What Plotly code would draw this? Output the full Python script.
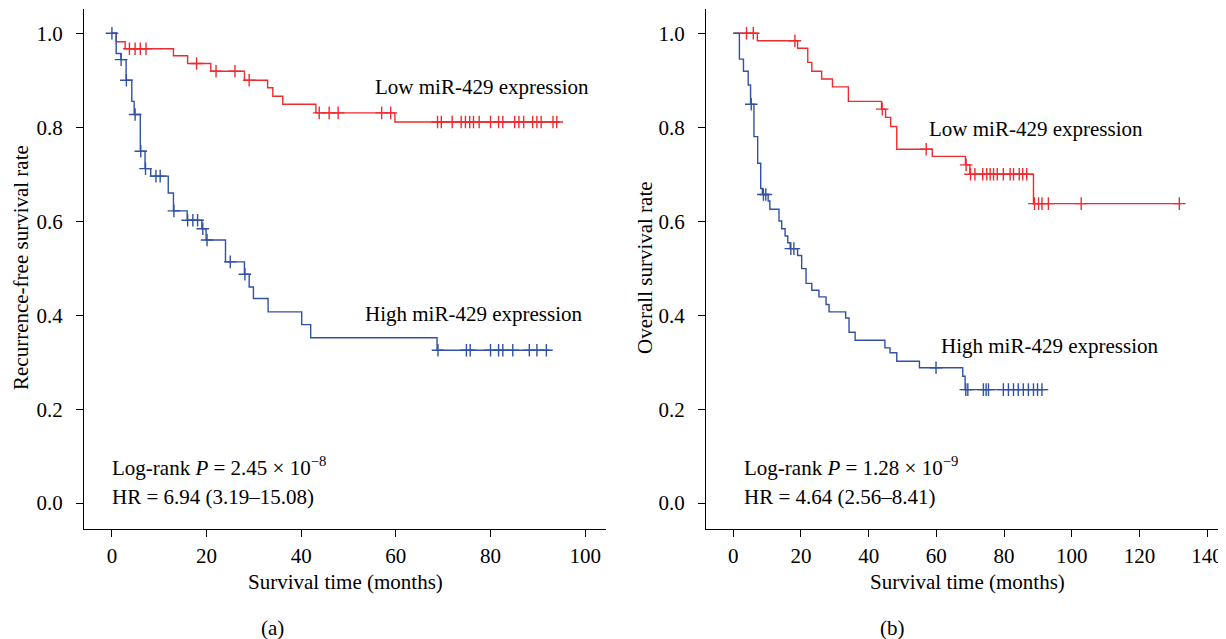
import numpy as np
import plotly.graph_objects as go

# ---------------- Data ----------------
# Panel (a): recurrence-free survival
a_low_t = [0.9, 2.8, 13.0, 16.0, 20.9, 28.0, 32.9, 34.0, 36.1, 43.1, 59.8]
a_low_s = [0.982, 0.967, 0.952, 0.9355, 0.919, 0.900, 0.884, 0.866, 0.849, 0.8305, 0.811]
a_low_end = 94.7
a_low_cens = [3.7, 4.9, 6.0, 7.2, 17.9, 22.0, 26.0, 29.0, 43.8, 45.9, 47.8, 57.0, 58.9,
              68.8, 69.6, 71.9, 73.8, 74.7, 75.6, 76.4, 77.6, 80.0, 81.7, 82.6, 85.1,
              86.0, 87.0, 88.9, 89.8, 90.7, 93.2, 94.0]

a_high_t = [0.9, 1.9, 3.0, 4.2, 4.7, 6.0, 7.0, 8.2, 11.9, 13.0, 15.9, 19.0, 19.9,
            24.0, 28.0, 29.0, 29.9, 33.0, 40.1, 42.0, 68.7]
a_high_s = [0.957, 0.944, 0.900, 0.855, 0.827, 0.749, 0.712, 0.696, 0.660, 0.622, 0.602,
            0.584, 0.560, 0.5135, 0.487, 0.460, 0.4355, 0.407, 0.380, 0.352, 0.3255]
a_high_end = 92.6
a_high_cens = [0.0, 1.95, 3.05, 4.9, 6.1, 7.1, 9.3, 10.2, 13.1, 16.0, 17.1, 18.1, 19.2,
               20.1, 25.0, 28.1, 68.9, 74.9, 75.7, 80.0, 81.7, 82.6, 84.7, 88.2, 89.8, 91.8]

# Panel (b): overall survival
b_low_t = [7.1, 19.0, 22.0, 23.2, 26.1, 29.3, 34.0, 43.8, 45.0, 46.5, 48.3, 58.8,
           68.6, 69.9, 88.7]
b_low_s = [0.984, 0.968, 0.938, 0.919, 0.9026, 0.886, 0.855, 0.8386, 0.821, 0.8017,
           0.753, 0.738, 0.720, 0.700, 0.6375]
b_low_end = 132.3
b_low_cens = [3.9, 5.9, 18.2, 44.0, 57.0, 68.8, 70.1, 71.4, 73.7, 74.9, 75.9, 76.9, 78.0,
              79.8, 81.8, 82.8, 84.5, 85.5, 86.7, 89.0, 90.2, 91.2, 93.1, 102.8, 131.8]

b_high_t = [1.8, 3.0, 4.4, 5.1, 6.1, 7.2, 8.1, 8.6, 10.3, 10.8, 13.5, 14.3, 15.3, 16.1,
            16.8, 19.0, 20.2, 21.5, 23.2, 25.3, 27.4, 28.3, 33.2, 34.2, 36.0, 44.8,
            46.3, 48.3, 55.0, 67.8, 68.5]
b_high_s = [0.945, 0.919, 0.890, 0.849, 0.780, 0.7235, 0.6695, 0.657, 0.643, 0.6254,
            0.6005, 0.584, 0.5686, 0.554, 0.5416, 0.527, 0.499, 0.4676, 0.453, 0.439,
            0.4228, 0.407, 0.394, 0.3638, 0.3468, 0.3305, 0.320, 0.302, 0.288, 0.270,
            0.2416]
b_high_end = 92.6
b_high_cens = [5.3, 8.9, 9.6, 17.0, 17.9, 59.9, 68.7, 69.3, 73.9, 74.7, 75.4, 79.8,
               81.3, 82.8, 84.2, 85.7, 87.2, 88.7, 89.9, 91.2]

y_ticks = [0.0, 0.2, 0.4, 0.6, 0.8, 1.0]
a_x_ticks = [0, 20, 40, 60, 80, 100]
b_x_ticks = [0, 20, 40, 60, 80, 100, 120, 140]

# ---------------- Styling ----------------
RED = "#EE2B2E"
BLUE = "#3051A5"
FONT = "Liberation Serif"
FS = 21
# the page body adds an 8px margin; size the figure so the page fits the window
OX, OY = 8, 8
W, H = 1226 - OX, 639 - OY


def px_x(p):
    return (p - OX) / W


def px_y(p):
    return 1 - (p - OY) / H


def step_xy(t, s, end):
    return [0.0] + list(t) + [end], [1.0] + list(s) + [s[-1]]


def cens_y(t, s, c):
    tt = np.array([0.0] + list(t))
    ss = np.array([1.0] + list(s))
    idx = np.searchsorted(tt, np.array(c), side="right") - 1
    return ss[idx].tolist()


fig = go.Figure()


def add_curve(t, s, end, cens, color, xa, ya):
    x, y = step_xy(t, s, end)
    fig.add_trace(go.Scatter(x=x, y=y, mode="lines", line=dict(color=color, width=1.4, shape="hv"),
                             xaxis=xa, yaxis=ya, showlegend=False, hoverinfo="skip"))
    fig.add_trace(go.Scatter(x=cens, y=cens_y(t, s, cens), mode="markers",
                             marker=dict(symbol="cross-thin", size=9, color=color,
                                         line=dict(color=color, width=1.4)),
                             xaxis=xa, yaxis=ya, showlegend=False, hoverinfo="skip"))


add_curve(a_low_t, a_low_s, a_low_end, a_low_cens, RED, "x", "y")
add_curve(a_high_t, a_high_s, a_high_end, a_high_cens, BLUE, "x", "y")
add_curve(b_low_t, b_low_s, b_low_end, b_low_cens, RED, "x2", "y2")
add_curve(b_high_t, b_high_s, b_high_end, b_high_cens, BLUE, "x2", "y2")

axis_common = dict(showline=True, linecolor="black", linewidth=1.3, ticks="outside",
                   ticklen=7, tickwidth=1.3, tickcolor="black", showgrid=False,
                   zeroline=False, tickfont=dict(family=FONT, size=FS, color="black"))

ydom = [px_y(528.5), px_y(9.3)]
yrange = [-0.054, 1.051]

fig.update_layout(
    width=W, height=H,
    margin=dict(l=0, r=0, t=0, b=0),
    paper_bgcolor="white", plot_bgcolor="white",
    xaxis=dict(domain=[px_x(84), px_x(606)], range=[-5.9, 104.4], tickvals=a_x_ticks,
               anchor="y", ticklabelstandoff=1, **axis_common),
    yaxis=dict(domain=ydom, range=yrange, tickvals=y_ticks, tickformat=".1f",
               anchor="x", ticklabelstandoff=9, **axis_common),
    xaxis2=dict(domain=[px_x(706), px_x(1224)], range=[-8.07, 145.0], tickvals=b_x_ticks,
                anchor="y2", ticklabelstandoff=1, **axis_common),
    yaxis2=dict(domain=ydom, range=yrange, tickvals=y_ticks, tickformat=".1f",
                anchor="x2", ticklabelstandoff=9, **axis_common),
)

tf = dict(family=FONT, size=FS, color="black")


def ann(text, x, y, xref, yref, xanchor="left", yanchor="middle", angle=0):
    fig.add_annotation(text=text, x=x, y=y, xref=xref, yref=yref, xanchor=xanchor,
                       yanchor=yanchor, showarrow=False, font=tf, textangle=angle)


# panel (a) texts
ann("Low miR-429 expression", 55.1, 0.886, "x", "y")
ann("High miR-429 expression", 53.0, 0.402, "x", "y")
ann("Log-rank <i>P</i> = 2.45 × 10<sup>−8</sup>", -0.5, 0.077, "x", "y")
ann("HR = 6.94 (3.19–15.08)", -0.5, 0.0135, "x", "y")
# panel (b) texts
ann("Low miR-429 expression", 57.3, 0.796, "x2", "y2")
ann("High miR-429 expression", 60.8, 0.3354, "x2", "y2")
ann("Log-rank <i>P</i> = 1.28 × 10<sup>−9</sup>", 2.6, 0.077, "x2", "y2")
ann("HR = 4.64 (2.56–8.41)", 2.6, 0.0135, "x2", "y2")

# axis titles and panel labels (placed from reference pixel positions)
ann("Survival time (months)", px_x(345), px_y(582), "paper", "paper", "center")
ann("Survival time (months)", px_x(967), px_y(582), "paper", "paper", "center")
ann("Recurrence-free survival rate", px_x(21), px_y(268), "paper", "paper", "center", angle=-90)
ann("Overall survival rate", px_x(645), px_y(268), "paper", "paper", "center", angle=-90)
ann("(a)", px_x(272), px_y(628), "paper", "paper", "center")
ann("(b)", px_x(893), px_y(628), "paper", "paper", "center")

fig.write_html("out.html")
